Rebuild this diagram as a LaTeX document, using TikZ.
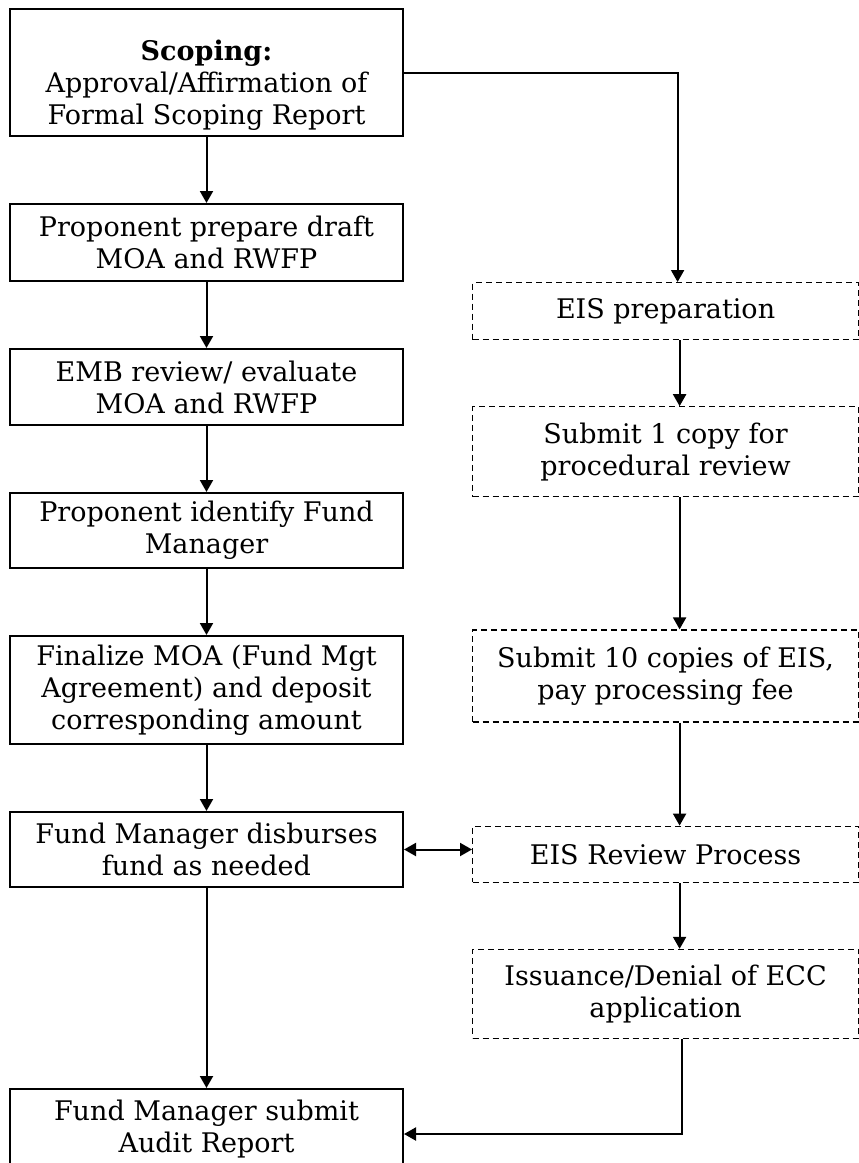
\documentclass[tikz,border=0pt]{standalone}
\usepackage{fontspec}
\setmainfont{DejaVu Serif}
\usetikzlibrary{positioning,arrows.meta}

\begin{document}
\begin{tikzpicture}[
            s/.style={draw,line width=1pt,rectangle,minimum width=196.5pt,align=center,inner sep=2pt,font=\fontsize{13.5}{16}\selectfont},
            d/.style={s,line width=0.6pt,dash pattern=on 3pt off 2pt,minimum width=193pt},
            a/.style={-{Triangle[length=6pt,width=6.5pt]},line width=1pt},
            aa/.style={{Triangle[length=6pt,width=6.5pt]}-{Triangle[length=6pt,width=6.5pt]},line width=1pt},
        ]

        \tikzset{
            node distance=33pt,
        }

        \useasboundingbox (0,0) rectangle (429pt,-581.5pt);

        % approval side
        \node[s,minimum height=63.5pt,anchor=north west] (scoping) at (4.5pt,-4pt) {\textbf{Scoping:}\rule{0pt}{23pt}\\Approval/Affirmation of\\Formal Scoping Report};
        \node[s,minimum height=38.5pt,below=of scoping] (draft) {Proponent prepare draft\\MOA and RWFP};
        \node[s,minimum height=38pt,below=of draft] (emb) {EMB review/ evaluate\\MOA and RWFP};
        \node[s,minimum height=37.5pt,below=of emb] (ident) {Proponent identify Fund\\Manager};
        \node[s,minimum height=54pt,below=of ident] (final) {Finalize MOA (Fund Mgt\\Agreement) and deposit\\corresponding amount};
        \node[s,minimum height=37.5pt,below=of final] (disburse) {Fund Manager disburses\\fund as needed};
        \node[s,minimum height=40pt,below=100pt of disburse] (audit) {Fund Manager submit\\Audit Report};

        % EIS side
        \node[d,minimum height=28.5pt,right=34pt of draft.south east,anchor=north west] (prep) {EIS preparation};
        \node[d,minimum height=45pt,below=of prep] (copy1) {Submit 1 copy for\\procedural review};
        \node[d,minimum height=46pt,below=66pt of copy1] (copy10) {Submit 10 copies of EIS,\\pay processing fee};
        \node[d,minimum height=28pt,below=51.5pt of copy10] (review) {EIS Review Process};
        \node[d,minimum height=44.5pt,below=of review] (ecc) {Issuance/Denial of ECC\\application};

        \draw[a] (scoping) -- (draft);
        \draw[a] (draft) -- (emb);
        \draw[a] (emb) -- (ident);
        \draw[a] (ident) -- (final);
        \draw[a] (final) -- (disburse);
        \draw[a] (disburse) -- (audit);

        \draw[a] (scoping.east) -| ([xshift=6pt]prep.north);
        \draw[a] ([xshift=7pt]prep.south) -- ([xshift=7pt]copy1.north);
        \draw[a] ([xshift=7pt]copy1.south) -- ([xshift=7pt]copy10.north);
        \draw[a] ([xshift=7pt]copy10.south) -- ([xshift=7pt]review.north);
        \draw[a] ([xshift=7pt]review.south) -- ([xshift=7pt]ecc.north);
        \draw[a] ([xshift=8pt]ecc.south) |- ([yshift=-2.5pt]audit.east);

        \draw[aa] (disburse.east) -- (disburse.east -| review.west);

\end{tikzpicture}
\end{document}
